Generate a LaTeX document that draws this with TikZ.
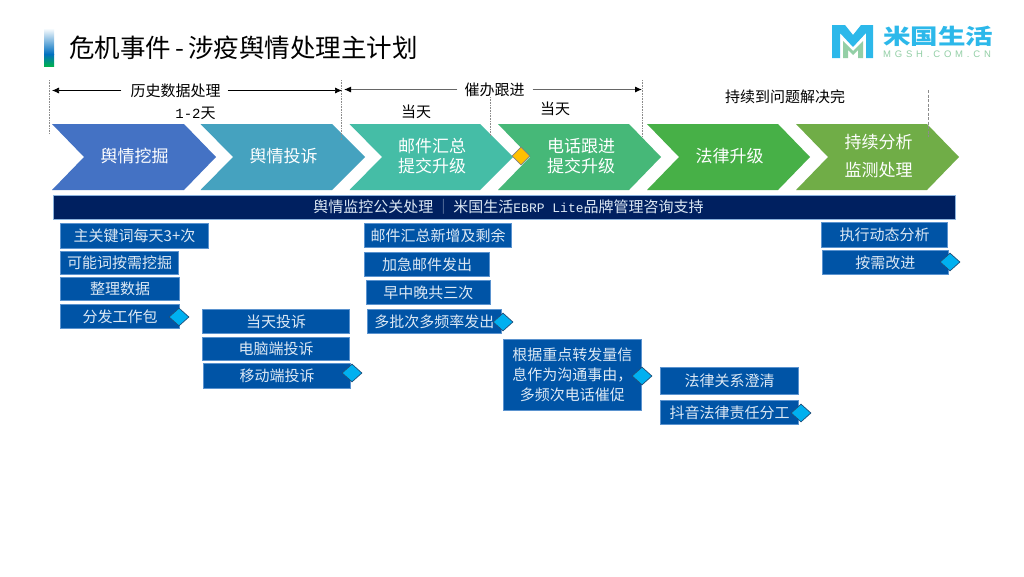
\documentclass[tikz,border=0pt]{standalone}
\usepackage{graphicx}
\usepackage{fontspec}
\setmainfont{Noto Sans CJK SC}
\newfontfamily\latf{Liberation Mono}
\newfontfamily\logofont[LetterSpace=40]{Liberation Sans}
\usetikzlibrary{shapes.geometric,arrows.meta}
\definecolor{boxblue}{HTML}{0054A6}
\definecolor{boxedge}{HTML}{5B93CF}
\definecolor{navy}{HTML}{002060}
\definecolor{ch1}{HTML}{4472C4}
\definecolor{ch2}{HTML}{45A2BF}
\definecolor{ch3}{HTML}{45BDA6}
\definecolor{ch4}{HTML}{46B878}
\definecolor{ch5}{HTML}{47B047}
\definecolor{ch6}{HTML}{70AD47}
\definecolor{logoblue}{HTML}{2CB8EA}
\definecolor{logogreen}{HTML}{93CFA6}
\definecolor{subtxt}{HTML}{DCE8F4}
\definecolor{accentblue}{HTML}{0070C0}
\definecolor{accentgreen}{HTML}{00B050}
\definecolor{diamblue}{HTML}{00B0F0}
\definecolor{diamedge}{HTML}{1F4E79}
\definecolor{diamyellow}{HTML}{FFC000}
\tikzset{
  px15/.style={font=\fontsize{15}{20}\selectfont},
  subbox/.style={draw=boxedge,line width=.6pt,fill=boxblue,text=subtxt,px15,inner sep=0pt,outer sep=0pt,align=center},
  chevtxt/.style={text=white,font=\fontsize{17}{20}\selectfont,align=center,inner sep=0pt},
  toptxt/.style={text=black,px15,inner sep=0pt},
  bluediam/.style={diamond,draw=diamedge,line width=.7pt,fill=diamblue,inner sep=0pt,minimum width=20pt,minimum height=18pt},
  yellowdiam/.style={diamond,draw=black!50,line width=.6pt,fill=diamyellow,inner sep=0pt,minimum width=18pt,minimum height=18pt},
  guide/.style={draw=black!45,line width=.6pt,densely dotted},
  spanarrow/.style={-{Latex[length=7pt,width=6pt]},line width=.7pt,draw=black},
  spanarrowg/.style={-{Latex[length=7pt,width=6pt,color=black]},line width=1pt,draw=black!60}
}
\newcommand{\chev}[8]{%
  \fill[#2] (#3,124) -- (#5,124) -- (#6,157) -- (#5,190) -- (#3,190) -- (#4,157) -- cycle;
  \node[chevtxt] (#1) at (#7,156) {#8};
}
\newcommand{\mybox}[6]{%
  \node[subbox,minimum width={(#4-#2-0.6)*1pt},minimum height={(#5-#3-0.6)*1pt}] (#1) at ({(#2+#4)/2},{(#3+#5)/2}) {#6};
}
\begin{document}
\begin{tikzpicture}[x=1pt,y=-1pt]
\useasboundingbox (0,0) rectangle (1024,576);
\fill[white] (0,0) rectangle (1024,576);
% title accent
\shade[top color=white,bottom color=accentblue] (44,28) rectangle (54,54);
\shade[top color=accentblue,bottom color=accentgreen] (44,54) rectangle (54,66);
\node[anchor=west,inner sep=0pt,text=black,font=\fontsize{25.5}{28}\selectfont] (title) at (69,48) {危机事件\makebox[17pt][c]{-}涉疫舆情处理主计划};
% logo
\fill[logoblue] (832,25) -- (845,25) -- (853,35) -- (861,25) -- (873,25) -- (873,58) -- (866,58) -- (866,33) -- (853,47) -- (840,33) -- (840,58) -- (832,58) -- cycle;
\fill[logogreen] (843,41) -- (853,51) -- (863,41) -- (863,58) -- (858,58) -- (858,50) -- (853,55) -- (848,50) -- (848,58) -- (843,58) -- cycle;
\node[anchor=center,inner sep=0pt,text=logoblue,font=\fontsize{27.5}{30}\selectfont\bfseries] (logotext) at (938,36) {\scalebox{1}[0.78]{米国生活}};
\node[anchor=west,inner sep=0pt,text=logogreen,font=\logofont\fontsize{9.5}{10}\selectfont] (logosub) at (883,54.5) {MGSH.COM.CN};
% guides
\coordinate (g1a) at (49.5,80); \coordinate (g1b) at (49.5,133);
\coordinate (g2a) at (341.5,80); \coordinate (g2b) at (341.5,140);
\coordinate (g3a) at (490,97); \coordinate (g3b) at (490,137);
\coordinate (g4a) at (642,80); \coordinate (g4b) at (642,137);
\coordinate (g5a) at (928,90); \coordinate (g5b) at (928,137);
% chevrons
\chev{c1}{ch1}{52}{84}{184}{216}{134.5}{舆情挖掘}
\chev{c2}{ch2}{200.5}{233}{332}{365}{283.5}{舆情投诉}
\chev{c3}{ch3}{349.5}{382}{480}{513}{432}{邮件汇总\\提交升级}
\chev{c4}{ch4}{498}{530}{629}{661}{581}{电话跟进\\提交升级}
\chev{c5}{ch5}{647}{679}{778}{810}{729.5}{法律升级}
\chev{c6}{ch6}{796}{828}{927}{959}{878.5}{持续分析\\[8pt]监测处理}
\draw[guide] (g1a) -- (g1b);
\draw[guide] (g2a) -- (g2b);
\draw[guide] (g3a) -- (g3b);
\draw[guide] (g4a) -- (g4b);
\draw[draw=black!45,line width=.6pt,dash pattern=on 3pt off 1.5pt] (g5a) -- (g5b);
% top labels
\node[toptxt] (s1) at (175.5,90.5) {历史数据处理};
\node[toptxt] (s2) at (494.5,89.5) {催办跟进};
\node[toptxt] (d1) at (195.5,113) {{\latf\fontsize{14}{15}\selectfont 1-2}天};
\node[toptxt] (d2) at (416,112) {当天};
\node[toptxt] (d3) at (555,109) {当天};
\node[toptxt] (s3) at (785,97) {持续到问题解决完};
\coordinate (a1l) at (52,90.5); \coordinate (a1r) at (342,90.5);
\coordinate (a2l) at (344,89.5); \coordinate (a2r) at (642,89.5);
\draw[spanarrow] ([xshift=-9pt]s1.west) -- (a1l);
\draw[spanarrow] ([xshift=7pt]s1.east) -- (a1r);
\draw[spanarrowg] ([xshift=-7pt]s2.west) -- (a2l);
\draw[spanarrowg] ([xshift=8pt]s2.east) -- (a2r);
% band
\node[draw=boxedge!70,line width=.6pt,fill=navy,text=subtxt,px15,inner sep=0pt,outer sep=0pt,minimum width=902.4pt,minimum height=24pt] (band) at (504.5,206.8) {\hspace{8pt}舆情监控公关处理{\color{subtxt!60!navy}\,｜\,}米国生活{\latf\fontsize{13}{15}\selectfont EBRP Lite}品牌管理咨询支持};
% sub boxes
\mybox{b1}{60}{223}{209}{249}{主关键词每天3+次}
\mybox{b2}{60}{251}{179}{275}{可能词按需挖掘}
\mybox{b3}{60}{277}{180}{301}{整理数据}
\mybox{b4}{60}{304}{180}{329}{分发工作包}
\mybox{b5}{202}{309}{350}{334}{当天投诉}
\mybox{b6}{202}{337}{350}{361}{电脑端投诉}
\mybox{b7}{203}{363}{351}{389}{移动端投诉}
\mybox{b8}{364}{223}{512}{248}{邮件汇总新增及剩余}
\mybox{b9}{364}{252}{490}{277}{加急邮件发出}
\mybox{b10}{365.5}{280}{491}{305}{早中晚共三次}
\mybox{b11}{366.5}{309}{502}{334}{多批次多频率发出}
\mybox{b12}{502.5}{339}{642}{411}{根据重点转发量信\\息作为沟通事由，\\多频次电话催促}
\mybox{b13}{660}{367}{799}{395}{法律关系澄清}
\mybox{b14}{660}{400}{799}{425}{抖音法律责任分工}
\mybox{b15}{821}{222}{948}{248}{执行动态分析}
\mybox{b16}{821.5}{250}{949}{275}{按需改进}
% diamonds
\node[yellowdiam] (dy) at (521,156) {};
\node[bluediam] (d4) at (179,317) {};
\node[bluediam] (d7) at (352,373) {};
\node[bluediam] (d11) at (503,322) {};
\node[bluediam] (d12) at (642,376) {};
\node[bluediam] (d14) at (801,413) {};
\node[bluediam] (d16) at (950,262) {};
\end{tikzpicture}
\end{document}
